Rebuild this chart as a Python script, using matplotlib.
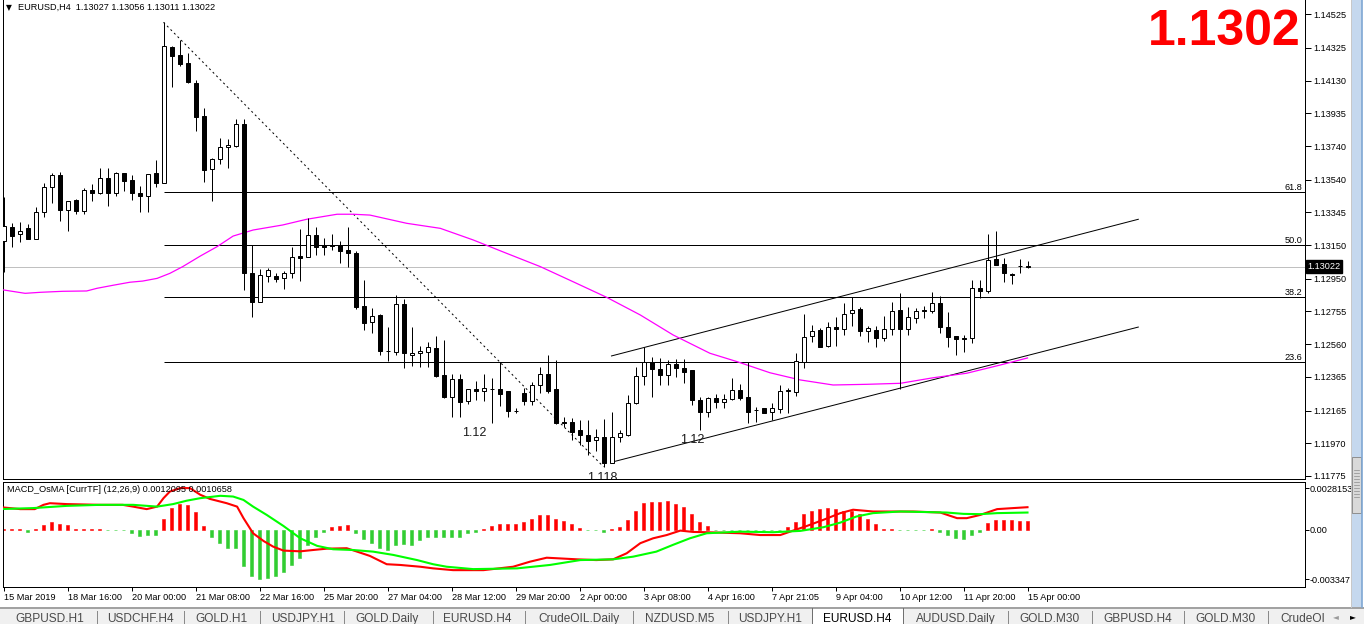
import numpy as np
import matplotlib.pyplot as plt
import matplotlib.transforms as mtransforms
from matplotlib.patches import Rectangle
from matplotlib.collections import LineCollection
from matplotlib.lines import Line2D

plt.rcParams['font.family'] = ['Liberation Sans', 'DejaVu Sans']

W, H = 1364, 624

# --- price data (EURUSD H4) ---
opens = [1.13175, 1.13260, 1.13215, 1.13250, 1.13188, 1.13346, 1.13494, 1.13568, 1.13359, 1.13419,
         1.13355, 1.13477, 1.13459, 1.13548, 1.13459, 1.13578, 1.13538, 1.13460, 1.13444, 1.13578,
         1.13518, 1.14330, 1.14282, 1.14233, 1.14114, 1.13919, 1.13602, 1.13661, 1.13733, 1.13740,
         1.13870, 1.12982, 1.12813, 1.12968, 1.12966, 1.12952, 1.12982, 1.13085, 1.13081, 1.13209,
         1.13151, 1.13153, 1.13153, 1.13121, 1.13103, 1.12788, 1.12690, 1.12734, 1.12521, 1.12512,
         1.12798, 1.12494, 1.12506, 1.12512, 1.12536, 1.12377, 1.12247, 1.12351, 1.12224, 1.12291,
         1.12281, 1.12295, 1.12291, 1.12281, 1.12164, 1.12268, 1.12224, 1.12317, 1.12382, 1.12291,
         1.12098, 1.12097, 1.12049, 1.12019, 1.11989, 1.12005, 1.11854, 1.12005, 1.12019, 1.12208,
         1.12371, 1.12456, 1.12410, 1.12377, 1.12442, 1.12416, 1.12406, 1.12228, 1.12154, 1.12238,
         1.12218, 1.12232, 1.12287, 1.12247, 1.12168, 1.12178, 1.12154, 1.12172, 1.12281, 1.12277,
         1.12456, 1.12609, 1.12645, 1.12551, 1.12664, 1.12649, 1.12744, 1.12770, 1.12639, 1.12645,
         1.12599, 1.12649, 1.12764, 1.12650, 1.12714, 1.12764, 1.12760, 1.12804, 1.12664, 1.12609,
         1.12599, 1.12595, 1.12896, 1.12879, 1.13066, 1.13038, 1.12976, 1.13024, 1.13027]
highs = [1.13437, 1.13280, 1.13288, 1.13276, 1.13375, 1.13522, 1.13578, 1.13584, 1.13410, 1.13425,
         1.13488, 1.13514, 1.13608, 1.13608, 1.13584, 1.13578, 1.13568, 1.13504, 1.13574, 1.13657,
         1.14477, 1.14336, 1.14372, 1.14293, 1.14134, 1.13965, 1.13667, 1.13786, 1.13780, 1.13901,
         1.13901, 1.13151, 1.13008, 1.13012, 1.12986, 1.12996, 1.13137, 1.13244, 1.13310, 1.13256,
         1.13191, 1.13215, 1.13175, 1.13258, 1.13115, 1.12942, 1.12774, 1.12738, 1.12664, 1.12853,
         1.12827, 1.12664, 1.12551, 1.12575, 1.12609, 1.12585, 1.12382, 1.12382, 1.12291, 1.12341,
         1.12382, 1.12357, 1.12456, 1.12281, 1.12178, 1.12297, 1.12337, 1.12426, 1.12496, 1.12466,
         1.12128, 1.12119, 1.12108, 1.12108, 1.12053, 1.12113, 1.12158, 1.12049, 1.12257, 1.12426,
         1.12545, 1.12485, 1.12476, 1.12466, 1.12470, 1.12470, 1.12406, 1.12247, 1.12247, 1.12262,
         1.12262, 1.12357, 1.12323, 1.12452, 1.12188, 1.12178, 1.12208, 1.12317, 1.12301, 1.12506,
         1.12738, 1.12674, 1.12655, 1.12694, 1.12720, 1.12804, 1.12839, 1.12780, 1.12668, 1.12668,
         1.12730, 1.12813, 1.12863, 1.12780, 1.12774, 1.12788, 1.12869, 1.12847, 1.12754, 1.12609,
         1.12615, 1.12942, 1.12942, 1.13216, 1.13236, 1.13072, 1.12982, 1.13067, 1.13056]
lows = [1.12990, 1.13137, 1.13170, 1.13185, 1.13185, 1.13315, 1.13399, 1.13296, 1.13236, 1.13334,
        1.13334, 1.13415, 1.13453, 1.13385, 1.13444, 1.13474, 1.13419, 1.13349, 1.13349, 1.13498,
        1.13518, 1.14090, 1.14219, 1.14114, 1.13832, 1.13528, 1.13415, 1.13633, 1.13608, 1.13733,
        1.12883, 1.12724, 1.12813, 1.12932, 1.12932, 1.12887, 1.12952, 1.12938, 1.13081, 1.13091,
        1.13091, 1.13121, 1.13045, 1.13022, 1.12770, 1.12645, 1.12625, 1.12496, 1.12462, 1.12496,
        1.12416, 1.12432, 1.12426, 1.12426, 1.12366, 1.12238, 1.12128, 1.12128, 1.12204, 1.12228,
        1.12224, 1.12089, 1.12194, 1.12125, 1.12148, 1.12198, 1.12198, 1.12268, 1.12268, 1.12085,
        1.12069, 1.11989, 1.11960, 1.11900, 1.11926, 1.11830, 1.11851, 1.11979, 1.12013, 1.12204,
        1.12317, 1.12244, 1.12317, 1.12317, 1.12366, 1.12327, 1.12198, 1.12049, 1.12128, 1.12178,
        1.12178, 1.12228, 1.12228, 1.12092, 1.12098, 1.12148, 1.12108, 1.12148, 1.12148, 1.12252,
        1.12420, 1.12575, 1.12545, 1.12545, 1.12551, 1.12615, 1.12670, 1.12609, 1.12575, 1.12545,
        1.12579, 1.12615, 1.12293, 1.12615, 1.12688, 1.12714, 1.12744, 1.12628, 1.12545, 1.12496,
        1.12515, 1.12565, 1.12835, 1.12867, 1.13032, 1.12932, 1.12918, 1.12986, 1.13011]
closes = [1.13264, 1.13206, 1.13232, 1.13188, 1.13346, 1.13494, 1.13568, 1.13359, 1.13410, 1.13355,
          1.13478, 1.13462, 1.13548, 1.13459, 1.13578, 1.13534, 1.13462, 1.13444, 1.13572, 1.13518,
          1.14336, 1.14278, 1.14229, 1.14123, 1.13915, 1.13597, 1.13661, 1.13733, 1.13746, 1.13870,
          1.12982, 1.12813, 1.12972, 1.13002, 1.12950, 1.12982, 1.13081, 1.13075, 1.13209, 1.13141,
          1.13141, 1.13147, 1.13117, 1.13101, 1.12782, 1.12684, 1.12728, 1.12521, 1.12518, 1.12798,
          1.12506, 1.12506, 1.12519, 1.12541, 1.12372, 1.12247, 1.12351, 1.12218, 1.12291, 1.12279,
          1.12297, 1.12291, 1.12262, 1.12164, 1.12164, 1.12224, 1.12317, 1.12381, 1.12283, 1.12089,
          1.12092, 1.12039, 1.12019, 1.11985, 1.12005, 1.11854, 1.12005, 1.12029, 1.12208, 1.12371,
          1.12456, 1.12410, 1.12377, 1.12442, 1.12416, 1.12396, 1.12228, 1.12154, 1.12238, 1.12218,
          1.12234, 1.12287, 1.12238, 1.12158, 1.12168, 1.12148, 1.12178, 1.12283, 1.12287, 1.12462,
          1.12605, 1.12640, 1.12545, 1.12664, 1.12649, 1.12738, 1.12764, 1.12639, 1.12655, 1.12599,
          1.12649, 1.12758, 1.12650, 1.12720, 1.12758, 1.12758, 1.12807, 1.12661, 1.12605, 1.12589,
          1.12593, 1.12893, 1.12879, 1.13061, 1.13032, 1.12982, 1.12970, 1.13026, 1.13022]

# moving average (magenta)
ma_idx = [0, 2.7, 4.6, 7.4, 10.4, 11.7, 13.7, 15.8, 17.4, 19.2, 20.8, 22.4, 24.6, 26.7, 28.7, 31.2,
          34.9, 37.9, 41.7, 43.7, 45.8, 50.4, 54.6, 58.7, 62.9, 67.1, 71.2, 75.4, 79.6, 83.7, 88.3,
          91.7, 95.8, 99.6, 103.7, 107.9, 112.1, 116.2, 120.4, 124.6, 128]
ma_val = [1.12883, 1.12863, 1.12869, 1.12875, 1.12877, 1.12893, 1.12911, 1.12929, 1.12936, 1.12952,
          1.12982, 1.13022, 1.13085, 1.13141, 1.13204, 1.13240, 1.13270, 1.13304, 1.13334, 1.13334,
          1.13329, 1.13280, 1.13250, 1.13181, 1.13101, 1.13022, 1.12932, 1.12839, 1.12734, 1.12615,
          1.12506, 1.12456, 1.12390, 1.12347, 1.12317, 1.12321, 1.12327, 1.12360, 1.12387, 1.12436,
          1.12478]

fib_ratios = [23.6, 38.2, 50.0, 61.8]
fib_from, fib_to = 20, 75          # bar of the swing high / swing low

channel_x = [76.0, 141.85]
channel_upper = [1.12490, 1.13304]
channel_lower = [1.11857, 1.12662]

price_ticks = [1.14525, 1.14325, 1.14130, 1.13935, 1.13740, 1.13540, 1.13345, 1.13150,
               1.12950, 1.12755, 1.12560, 1.12365, 1.12165, 1.11970, 1.11775]

time_labels = ['15 Mar 2019', '18 Mar 16:00', '20 Mar 00:00', '21 Mar 08:00', '22 Mar 16:00',
               '25 Mar 20:00', '27 Mar 04:00', '28 Mar 12:00', '29 Mar 20:00', '2 Apr 00:00',
               '3 Apr 08:00', '4 Apr 16:00', '7 Apr 21:05', '9 Apr 04:00', '10 Apr 12:00',
               '11 Apr 20:00', '15 Apr 00:00']

# --- MACD_OsMA panel ---
osma_hist = [0.00002, 0.00002, 0.00002, -0.00016, 0.00003, 0.00029, 0.00052, 0.00036, 0.00029, 0.00007,
             0.00005, 0.00005, 0.00005, -0.00005, -0.00005, -0.00005, -0.00022, -0.00043, -0.00034, -0.00034,
             0.00074, 0.00147, 0.00176, 0.00165, 0.00120, 0.00022, -0.00049, -0.00090, -0.00124, -0.00124,
             -0.00242, -0.00315, -0.00335, -0.00325, -0.00315, -0.00285, -0.00237, -0.00190, -0.00100, -0.00049,
             -0.00016, 0.00018, 0.00025, 0.00029, -0.00022, -0.00061, -0.00090, -0.00124, -0.00140, -0.00100,
             -0.00095, -0.00100, -0.00072, -0.00049, -0.00049, -0.00049, -0.00047, -0.00047, -0.00025, -0.00014,
             0.00002, 0.00027, 0.00039, 0.00039, 0.00039, 0.00049, 0.00072, 0.00102, 0.00102, 0.00072,
             0.00056, 0.00039, 0.00009, -0.00003, -0.00003, -0.00018, 0.00003, 0.00016, 0.00066, 0.00124,
             0.00178, 0.00190, 0.00190, 0.00196, 0.00174, 0.00151, 0.00106, 0.00054, 0.00022, -0.00005,
             -0.00005, -0.00005, -0.00005, -0.00005, -0.00005, -0.00005, -0.00005, -0.00005, 0.00016, 0.00054,
             0.00106, 0.00129, 0.00140, 0.00144, 0.00140, 0.00129, 0.00129, 0.00106, 0.00072, 0.00039,
             0.00005, 0.00005, -0.00002, -0.00002, -0.00002, -0.00002, 0.00002, -0.00018, -0.00039, -0.00056,
             -0.00063, -0.00034, -0.00016, 0.00045, 0.00063, 0.00068, 0.00068, 0.00061, 0.00056]
macd_idx = [0, 2.1, 3.9, 5.0, 5.8, 7.9, 12.1, 14.9, 16.2, 17.9, 19.2, 20.0, 20.8, 22.1, 23.3, 24.6,
            25.8, 27.9, 29.2, 30.0, 31.2, 32.5, 33.7, 35.0, 37.1, 38.7, 40.4, 42.9, 44.2, 45.8, 47.9,
            49.6, 52.1, 53.7, 56.2, 60.0, 63.7, 65.8, 67.9, 71.7, 74.1, 76.2, 77.9, 79.6, 81.2, 82.9,
            84.6, 86.2, 87.9, 92.1, 94.6, 97.1, 98.7, 100.4, 102.5, 104.6, 106.2, 108.7, 112.1, 113.7,
            117.1, 119.2, 120.4, 122.1, 124.2, 126.2, 128.0]
macd_val = [0.00150, 0.00139, 0.00139, 0.00168, 0.00179, 0.00173, 0.00168, 0.00168, 0.00156, 0.00139,
            0.00156, 0.00213, 0.00258, 0.00281, 0.00281, 0.00236, 0.00208, 0.00179, 0.00156, 0.00078,
            -0.00024, -0.00076, -0.00114, -0.00141, -0.00146, -0.00137, -0.00128, -0.00125, -0.00148, -0.00177,
            -0.00233, -0.00238, -0.00250, -0.00261, -0.00273, -0.00273, -0.00250, -0.00216, -0.00189, -0.00200,
            -0.00205, -0.00200, -0.00159, -0.00091, -0.00058, -0.00036, -0.00006, -0.00015, -0.00017, -0.00024,
            -0.00036, -0.00036, -0.00006, 0.00025, 0.00067, 0.00112, 0.00135, 0.00123, 0.00123, 0.00123,
            0.00116, 0.00078, 0.00078, 0.00100, 0.00139, 0.00146, 0.00152]
signal_idx = [0, 3.7, 7.9, 12.1, 16.2, 19.2, 21.2, 22.9, 24.6, 27.1, 28.7, 30.0, 31.2, 32.9, 35.0,
              37.1, 39.2, 41.2, 43.7, 46.2, 48.7, 51.7, 53.7, 55.4, 58.7, 64.2, 68.3, 72.1, 76.2, 78.7,
              81.6, 83.7, 85.8, 87.9, 92.1, 96.2, 99.6, 102.5, 104.6, 106.6, 108.7, 112.1, 117.9, 120.0,
              122.1, 124.2, 128.0]
signal_val = [0.00140, 0.00146, 0.00161, 0.00168, 0.00168, 0.00156, 0.00173, 0.00196, 0.00213, 0.00229,
              0.00224, 0.00201, 0.00156, 0.00100, 0.00025, -0.00058, -0.00109, -0.00132, -0.00137, -0.00148,
              -0.00170, -0.00205, -0.00233, -0.00250, -0.00266, -0.00261, -0.00238, -0.00205, -0.00200, -0.00182,
              -0.00148, -0.00102, -0.00058, -0.00024, -0.00013, -0.00017, -0.00008, 0.00017, 0.00048, 0.00089,
              0.00112, 0.00123, 0.00116, 0.00107, 0.00105, 0.00112, 0.00116]
macd_ticks = [0.0028153, 0.0, -0.003347]
macd_tick_labels = ['0.0028153', '0.00', '-0.003347']

tab_names = ['GBPUSD.H1', 'USDCHF.H4', 'GOLD.H1', 'USDJPY.H1', 'GOLD.Daily', 'EURUSD.H4',
             'CrudeOIL.Daily', 'NZDUSD.M5', 'USDJPY.H1', 'EURUSD.H4', 'AUDUSD.Daily', 'GOLD.M30',
             'GBPUSD.H4', 'GOLD.M30', 'CrudeOI']
active_tab = 9

# layout (pixels)
tab_centers = [49.5, 140, 221, 303, 387.5, 477.5, 579, 679.5, 770, 857.5, 956, 1049, 1138, 1225.5, 1303]
tab_seps = [97, 184, 260, 344, 433, 525, 633, 728, 1008, 1092, 1184, 1268]

n = len(closes)
idx = np.arange(n)
x_left = (3 - 3.5) / 8
x_right = (1305 - 3.5) / 8
PX = 0.72  # one pixel in points


def fig_rect(x0, y0, x1, y1, **kw):
    fig.add_artist(Rectangle((x0 / W, 1 - y1 / H), (x1 - x0) / W, (y1 - y0) / H,
                             transform=fig.transFigure, **kw))


def fig_line(x0, y0, x1, y1, **kw):
    fig.add_artist(Line2D([x0 / W, x1 / W], [1 - y0 / H, 1 - y1 / H],
                          transform=fig.transFigure, **kw))


fig = plt.figure(figsize=(W / 100, H / 100), dpi=100)
fig.patch.set_facecolor('white')

# ---------------- main price panel ----------------
ax = fig.add_axes([3 / W, 1 - 479.3 / H, 1302 / W, 479.3 / H])
ax.set_xlim(x_left, x_right)
ax.set_ylim(1.1461 - 0.00005956 * 479.3, 1.1461)
for side in ['top']:
    ax.spines[side].set_visible(False)
for side in ['left', 'right', 'bottom']:
    ax.spines[side].set_linewidth(PX)

# bid line
ax.axhline(closes[-1], color='#c0c0c0', lw=PX, zorder=1)

# fibonacci retracement
fib_high = highs[fib_from]
fib_low = lows[fib_to]
for r in fib_ratios:
    lvl = fib_low + r / 100 * (fib_high - fib_low)
    ax.hlines(lvl, fib_from, x_right, color='black', lw=PX, zorder=2)
    ax.text(x_right - 0.3, lvl, f'{r:.1f}', ha='right', va='bottom', fontsize=6.6, zorder=5)
ax.plot([fib_from, fib_to], [fib_high, fib_low], color='black', lw=PX,
        dashes=(2, 3), zorder=2)

# channel
ax.plot(channel_x, channel_upper, color='black', lw=PX, zorder=2)
ax.plot(channel_x, channel_lower, color='black', lw=PX, zorder=2)

# moving average
ax.plot(ma_idx, ma_val, color='#ff00ff', lw=0.9, zorder=3)

# candles
wicks = [[(i, lows[i]), (i, highs[i])] for i in idx]
ax.add_collection(LineCollection(wicks, colors='black', linewidths=PX, zorder=4))
for i in idx:
    o, c = opens[i], closes[i]
    up = c >= o
    ax.add_patch(Rectangle((i - 0.25, min(o, c)), 0.5, abs(c - o),
                           facecolor='white' if up else 'black', edgecolor='black',
                           lw=PX, zorder=5))

# swing labels
ax.text(58.9, 1.12031, '1.12', ha='center', va='center', fontsize=9, color='#1a1a1a', zorder=6)
ax.text(86.1, 1.11989, '1.12', ha='center', va='center', fontsize=9, color='#1a1a1a', zorder=6)
ax.text(74.9, 1.11762, '1.118', ha='center', va='center', fontsize=9, color='#1a1a1a',
        zorder=6, clip_on=True)

ax.set_xticks([])
ax.yaxis.tick_right()
ax.set_yticks(price_ticks)
ax.set_yticklabels([f'{v:.5f}' for v in price_ticks])
ax.tick_params(axis='y', length=4, width=PX, labelsize=6.6, pad=2)

trans = mtransforms.blended_transform_factory(ax.transAxes, ax.transData)
ax.text(1.0018, closes[-1], f'{closes[-1]:.5f}', transform=trans, color='white', fontsize=6.6,
        ha='left', va='center', clip_on=False, zorder=10,
        bbox=dict(boxstyle='square,pad=0.18', fc='black', ec='black'))

# header and big price
fig.text(6 / W, 1 - 7.5 / H, '\u25bc', fontsize=5.5, va='center', family='DejaVu Sans')
fig.text(18 / W, 1 - 7 / H, f'{"EURUSD,H4"}  {opens[-1]:.5f} {highs[-1]:.5f} {lows[-1]:.5f} {closes[-1]:.5f}',
         fontsize=6.6, va='center')
fig.text(1301 / W, 1 - 32 / H, f'{closes[-1]:.4f}', ha='right', va='center', fontsize=36,
         fontweight='bold', color='#ff0000')

# ---------------- MACD panel ----------------
ax2 = fig.add_axes([3 / W, 1 - 586.7 / H, 1302 / W, (586.7 - 481.7) / H])
ax2.set_xlim(x_left, x_right)
ax2.set_ylim(-0.003848, 0.003242)
for side in ax2.spines.values():
    side.set_linewidth(PX)
hist_colors = ['#ff0000' if v > 0 else '#32cd32' for v in osma_hist]
ax2.bar(idx, osma_hist, width=0.31, color=hist_colors, edgecolor=hist_colors, lw=0.4, zorder=2)
ax2.plot(macd_idx, macd_val, color='#ff0000', lw=1.5, zorder=3)
ax2.plot(signal_idx, signal_val, color='#00ff00', lw=1.5, zorder=4)
ax2.text(0.003, 0.93, 'MACD_OsMA [CurrTF] (12,26,9) 0.0012095 0.0010658', transform=ax2.transAxes,
         fontsize=6.6, va='center', zorder=6)

ax2.yaxis.tick_right()
ax2.set_yticks(macd_ticks)
ax2.set_yticklabels(macd_tick_labels)
ax2.tick_params(axis='y', length=3, width=PX, labelsize=6.6, pad=0.5)
ax2.set_xticks(np.arange(0, n, 8))
ax2.set_xticklabels(time_labels, ha='left')
ax2.tick_params(axis='x', length=3, width=PX, labelsize=6.6, pad=1.5)

# ---------------- tab bar ----------------
fig_rect(0, 607, 1364, 624, facecolor='#f0f0f0', edgecolor='none')
fig_line(0, 607.5, 1364, 607.5, color='#a0a0a0', lw=1.4)
fig_rect(812, 608, 903, 624, facecolor='white', edgecolor='none')
fig_line(812, 608, 812, 624, color='#707070', lw=PX)
fig_line(903, 608, 903, 624, color='#707070', lw=PX)
for sx in tab_seps:
    fig_line(sx, 611, sx, 624, color='#8a8a8a', lw=PX)
for k, (name, cx) in enumerate(zip(tab_names, tab_centers)):
    fig.text(cx / W, 1 - 619 / H, name, ha='center', va='center', fontsize=8.6,
             color='black' if k == active_tab else '#4a4a4a')
fig_rect(1330, 609, 1364, 624, facecolor='#f0f0f0', edgecolor='none')
fig.text(1336 / W, 1 - 617 / H, '\u25c4', fontsize=5.5, ha='center', va='center', color='#9a9a9a',
         family='DejaVu Sans')
fig.text(1353 / W, 1 - 617 / H, '\u25ba', fontsize=5.5, ha='center', va='center', color='black',
         family='DejaVu Sans')

# scrollbar
fig_rect(1351, 0, 1362, 607, facecolor='#c5d8ee', edgecolor='none')
fig_line(1351, 0, 1351, 607, color='#c8c8c8', lw=PX)
fig_line(1361.5, 0, 1361.5, 607, color='#7fa7d3', lw=1.2)
fig_rect(1352, 457, 1361, 513, facecolor='#d9d9d9', edgecolor='#909090', lw=PX)
for gy in range(470, 500, 3):
    fig_line(1354, gy, 1359, gy, color='#8a8a8a', lw=0.5)

fig.savefig('out.png', dpi=100)
